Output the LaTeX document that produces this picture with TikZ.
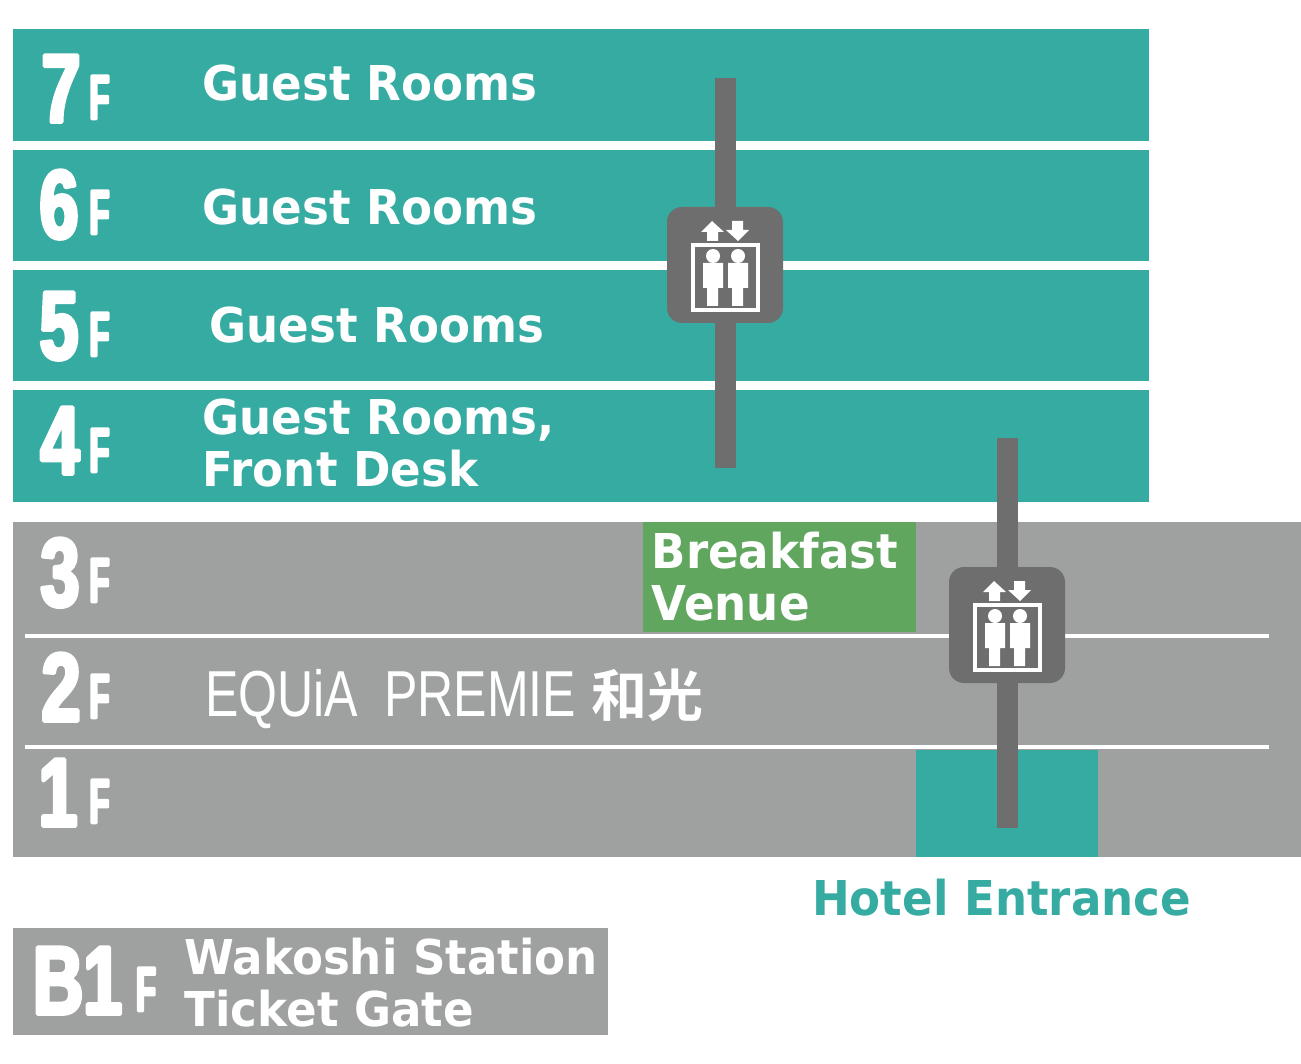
\documentclass[tikz,border=0pt]{standalone}
\usepackage{fontspec}
\setmainfont[FakeStretch=0.94]{DejaVu Sans}
\newfontfamily\numfont[FakeStretch=0.72,FakeBold=4]{Liberation Sans}
\newfontfamily\unitfont[FakeStretch=0.52,FakeBold=4]{Liberation Sans}
\newfontfamily\lightfont[FakeStretch=0.77]{Liberation Sans}
\newfontfamily\cjkfont{Noto Sans CJK JP}[BoldFont={* Bold}]
\definecolor{tealRow}{HTML}{36ABA2}
\definecolor{grayRow}{HTML}{9FA1A0}
\definecolor{shaftGray}{HTML}{6E6E6E}
\definecolor{breakfastGreen}{HTML}{61A65F}
\tikzset{
	roomText/.style={anchor=base west, inner sep=0pt, text=white, align=left, font=\fontsize{48}{52}\selectfont\bfseries},
	bigNum/.style={anchor=base, inner sep=0pt, text=white, font=\fontsize{97}{97}\selectfont\numfont\bfseries},
	smallF/.style={anchor=base, inner sep=0pt, text=white, font=\fontsize{63}{63}\selectfont\unitfont\bfseries},
	liftBox/.pic={
		\fill[shaftGray, rounded corners=15pt] (-58,-58) rectangle (58,58);
		\draw[white, line width=4pt, line join=miter] (-32,-20.3) rectangle (33,44.7);
		\fill[white] (-12,-9) circle (7) (13,-9) circle (7);
		\fill[white] (-22,-2) rectangle (-2,23) (-18,23) rectangle (-7,41);
		\fill[white] (3,-2) rectangle (23,23) (7,23) rectangle (18,41);
		\fill[white] (-13,-44)--(-1,-33)--(-7,-33)--(-7,-24)--(-18,-24)--(-18,-33)--(-24,-33)--cycle;
		\fill[white] (13,-24)--(1,-35)--(7,-35)--(7,-44)--(18,-44)--(18,-35)--(24,-35)--cycle;
	}
}
\begin{document}
\begin{tikzpicture}[x=1pt, y=-1pt, line join=round]
	\useasboundingbox (0,0) rectangle (1301,1064);
	\coordinate (liftA) at (725,265);
	\coordinate (liftB) at (1007,625);

	\foreach \top/\bot in {29/141, 150/261, 270/381, 390/502}
	\fill[tealRow] (13,\top) rectangle (1149,\bot);
	\fill[grayRow] (13,522) rectangle (1301,857);
	\fill[grayRow] (13,928) rectangle (608,1035);
	\fill[breakfastGreen] (643,522) rectangle (916,632);
	\fill[tealRow] (916,750) rectangle (1098,857);
	\foreach \ypos in {635.5, 746.5}
	\draw[white, line width=4pt] (25,\ypos)--(1269,\ypos);

	\fill[shaftGray] (715,78) rectangle (736,468);
	\fill[shaftGray] (997,438) rectangle (1018,828);
	\pic at (liftA) {liftBox};
	\pic at (liftB) {liftBox};

	\foreach \lab/\xd/\yd/\yf in {7/61/122/119, 6/59/238/234, 5/59/359/356, 4/60/474/472, 3/60/606/602, 2/61/721/718, 1/58/826/823}
	{
		\node[bigNum] (num\lab) at (\xd,\yd) {\lab};
		\node[smallF] (unit\lab) at (99.5,\yf) {F};
	}
	\node[bigNum] (numB) at (77.5,1014) {B1};
	\node[smallF] (unitB) at (146,1011) {F};

	\node[roomText] (room7) at (202.5,101) {Guest Rooms};
	\node[roomText] (room6) at (202.5,225) {Guest Rooms};
	\node[roomText] (room5) at (209.5,343) {Guest Rooms};
	\node[roomText] (room4) at (202.5,486.5) {Guest Rooms,\\Front Desk};
	\node[roomText] (breakfast) at (651.5,620) {Breakfast\\Venue};
	\node[roomText] (station) at (184.5,1026) {Wakoshi Station\\Ticket Gate};
	\node[roomText, text=tealRow] (entrance) at (812,915) {Hotel Entrance};
	\node[anchor=base west, inner sep=0pt, text=white, font=\fontsize{65}{65}\selectfont\lightfont] (premie) at (205,716) {EQUiA\hspace{26pt}PREMIE\hspace{15pt}{\fontsize{56}{56}\selectfont\cjkfont\bfseries 和光}};
\end{tikzpicture}
\end{document}
